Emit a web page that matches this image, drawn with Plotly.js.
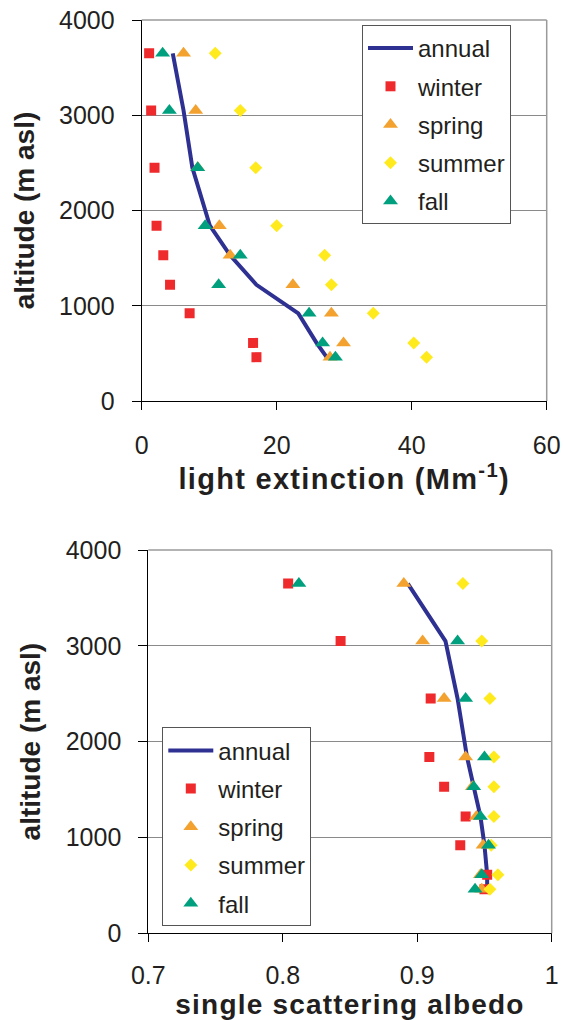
<!DOCTYPE html>
<html>
<head>
<meta charset="utf-8">
<script src="https://cdn.plot.ly/plotly-3.0.1.min.js"></script>
<style>
html,body{margin:0;padding:0;background:#fff;overflow:hidden;}
body{width:564px;height:1020px;}
#chart{width:564px;height:1040px;}
.g-xtitle text{letter-spacing:1.3px;}
.g-x2title text{letter-spacing:1.2px;}
</style>
</head>
<body>
<div id="chart"></div>
<script>
// altitude levels (m asl)
const altitude = [3650, 3050, 2450, 1840, 1530, 1220, 920, 610, 460];

// light extinction (Mm-1)
const extAnnual = [4.6, 6.2, 7.5, 10.1, 13.1, 17.0, 23.2, 25.9, 27.4];
const extWinter = [1.1, 1.4, 1.9, 2.2, 3.2, 4.2, 7.1, 16.5, 17.0];
const extSpring = [6.2, 8.0, 8.3, 11.5, 13.1, 22.4, 28.1, 29.9, 27.9];
const extSummer = [10.9, 14.6, 16.9, 20.0, 27.1, 28.1, 34.3, 40.3, 42.2];
const extFall   = [3.1, 4.1, 8.3, 9.4, 14.6, 11.4, 24.8, 26.8, 28.7];

// single scattering albedo
const ssaAnnual = [0.893, 0.921, 0.930, 0.937, 0.942, 0.947, 0.950, 0.952, 0.952];
const ssaWinter = [0.804, 0.843, 0.910, 0.909, 0.920, 0.936, 0.932, 0.952, 0.950];
const ssaSpring = [0.890, 0.904, 0.920, 0.936, 0.941, 0.944, 0.949, 0.947, 0.948];
const ssaSummer = [0.934, 0.948, 0.954, 0.957, 0.957, 0.957, 0.955, 0.960, 0.954];
const ssaFall   = [0.812, 0.930, 0.936, 0.950, 0.942, 0.947, 0.953, 0.948, 0.943];

const seriesNames = ['annual', 'winter', 'spring', 'summer', 'fall'];
const yTicks = [0, 1000, 2000, 3000, 4000];
const extTicks = [0, 20, 40, 60];
const ssaTicks = [0.7, 0.8, 0.9, 1];

const colors = {annual:'#2E3192', winter:'#EE2A2D', spring:'#F3A22F', summer:'#FFEA1E', fall:'#00A07E'};
const symbols = {winter:'square', spring:'triangle-up', summer:'diamond', fall:'triangle-up'};
const sizes = {winter:10, spring:13, summer:10, fall:13};

function makeTraces(xs, xa, ya, legendId){
  return seriesNames.map((name, i) => {
    const t = {x: xs[i], y: altitude, name: name, xaxis: xa, yaxis: ya,
      legend: legendId, legendgroup: legendId + name, hoverinfo:'x+y'};
    if (name === 'annual') {
      t.mode = 'lines'; t.line = {color: colors.annual, width: 4};
    } else {
      t.mode = 'markers';
      t.marker = {symbol: symbols[name], color: colors[name], size: sizes[name], line:{width:0}};
    }
    return t;
  });
}

const data = [].concat(
  makeTraces([extAnnual, extWinter, extSpring, extSummer, extFall], 'x', 'y', 'legend'),
  makeTraces([ssaAnnual, ssaWinter, ssaSpring, ssaSummer, ssaFall], 'x2', 'y2', 'legend2')
);

const W = 564, H = 1040;
const tickFont = {family:'"Liberation Sans", Arial, sans-serif', size:25, color:'#231F20'};
const titleFont = {family:'"Liberation Sans", Arial, sans-serif', size:28, color:'#231F20', weight:'bold'};
const xTitleFont = {family:'"Liberation Sans", Arial, sans-serif', size:29, color:'#231F20', weight:'bold'};
const x2TitleFont = {family:'"Liberation Sans", Arial, sans-serif', size:28, color:'#231F20', weight:'bold'};
const legendFont = {family:'"Liberation Sans", Arial, sans-serif', size:24, color:'#231F20'};

function yAxis(domain, anchor){
  return {domain: domain, anchor: anchor, range:[0,4000], tickvals: yTicks,
    showgrid:true, gridcolor:'#8a8a8a', gridwidth:1, zeroline:false,
    showline:true, linecolor:'#000', linewidth:1, ticks:'outside', ticklen:9, tickcolor:'#000',
    ticklabelstandoff: 12, tickfont: tickFont, automargin:false, fixedrange:true,
    title:{text:'<b>altitude (m asl)</b>', font: titleFont, standoff: 16}};
}
function xAxis(domain, anchor, range, ticks, title, tfont, labelStandoff, standoff){
  return {domain: domain, anchor: anchor, range: range, tickvals: ticks,
    showgrid:false, zeroline:false, showline:true, linecolor:'#000', linewidth:1,
    ticks:'outside', ticklen:8, tickcolor:'#000', ticklabelstandoff: labelStandoff, tickfont: tickFont,
    automargin:false, fixedrange:true,
    title:{text: title, font: tfont, standoff: standoff}};
}

const layout = {
  width: W, height: H,
  margin:{l:0, r:0, t:0, b:0},
  paper_bgcolor:'#fff', plot_bgcolor:'#fff',
  showlegend:true,
  xaxis: xAxis([141.7/W, 546.7/W], 'y', [0,60], extTicks, '<b>light extinction (Mm<sup>-1</sup>)</b>', xTitleFont, 14, 2),
  yaxis: yAxis([1-401/H, 1-20/H], 'x'),
  xaxis2: xAxis([148.3/W, 551.7/W], 'y2', [0.7,1], ssaTicks, '<b>single scattering albedo</b>', x2TitleFont, 12, 2),
  yaxis2: yAxis([1-933.3/H, 1-550/H], 'x2'),
  legend: {x: 362/W, y: 1-25/H, xanchor:'left', yanchor:'top', bgcolor:'#fff',
    bordercolor:'#555', borderwidth:1, font: legendFont, traceorder:'grouped',
    tracegroupgap: 4, itemwidth: 45},
  legend2: {x: 162.3/W, y: 1-727.3/H, xanchor:'left', yanchor:'top', bgcolor:'#fff',
    bordercolor:'#555', borderwidth:1, font: legendFont, traceorder:'grouped',
    tracegroupgap: 4, itemwidth: 45},
  shapes: [
    {type:'line', xref:'x domain', yref:'y domain', x0:0, x1:1, y0:1, y1:1, line:{color:'#9a9a9a', width:1.5}},
    {type:'line', xref:'x domain', yref:'y domain', x0:1, x1:1, y0:0, y1:1, line:{color:'#9a9a9a', width:1.5}},
    {type:'line', xref:'x2 domain', yref:'y2 domain', x0:0, x1:1, y0:1, y1:1, line:{color:'#9a9a9a', width:1.5}},
    {type:'line', xref:'x2 domain', yref:'y2 domain', x0:1, x1:1, y0:0, y1:1, line:{color:'#9a9a9a', width:1.5}}
  ]
};

Plotly.newPlot('chart', data, layout, {displayModeBar:false, staticPlot:true});
</script>
</body>
</html>
